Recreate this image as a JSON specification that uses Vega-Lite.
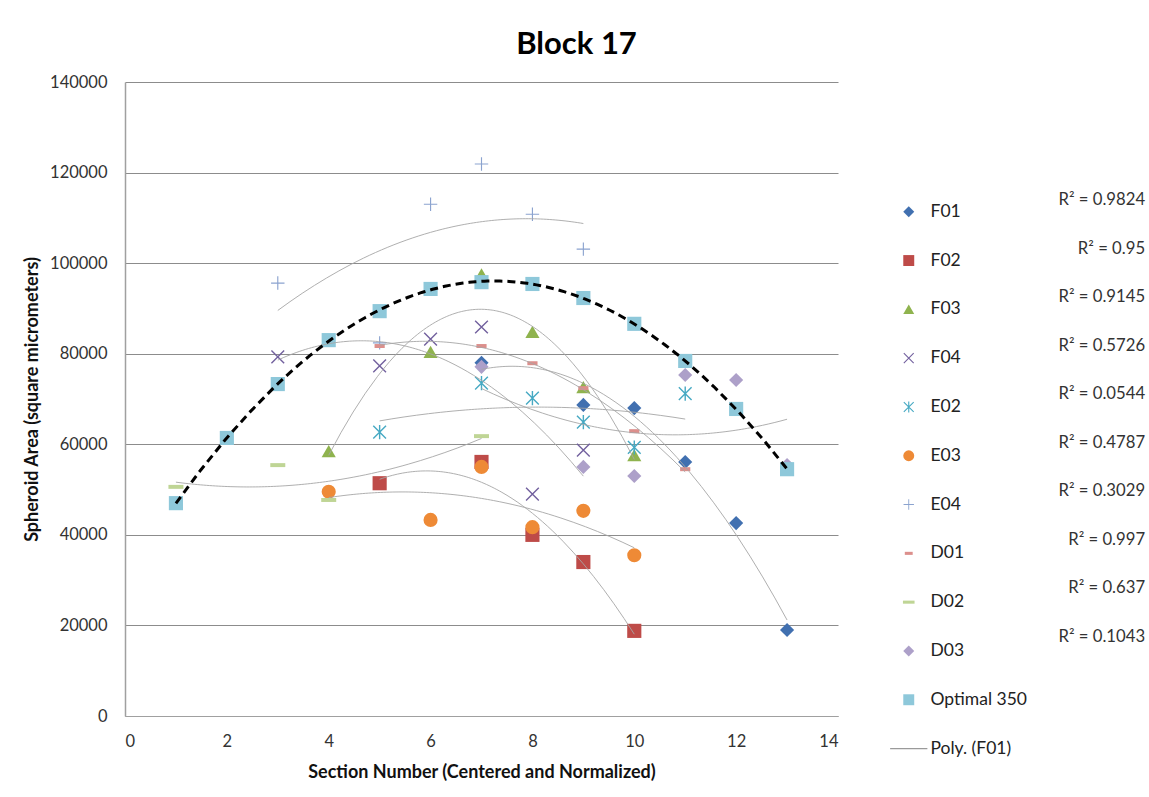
{
  "$schema": "https://vega.github.io/schema/vega-lite/v6.json",
  "width": 713,
  "height": 634,
  "autosize": {"type": "none"},
  "padding": {"left": 125, "top": 82, "right": 311, "bottom": 81},
  "background": "white",
  "title": {
    "text": "Block 17",
    "font": "Lato",
    "fontSize": 31,
    "fontWeight": "bold",
    "color": "#000000",
    "anchor": "middle",
    "dx": 95,
    "offset": 13
  },
  "datasets": {
    "points": [
      {"series": "F01", "section": 7, "area": 78000},
      {"series": "F01", "section": 9, "area": 68700},
      {"series": "F01", "section": 10, "area": 68000},
      {"series": "F01", "section": 11, "area": 56100},
      {"series": "F01", "section": 12, "area": 42600},
      {"series": "F01", "section": 13, "area": 19000},
      {"series": "F02", "section": 5, "area": 51400},
      {"series": "F02", "section": 7, "area": 56100},
      {"series": "F02", "section": 8, "area": 40000},
      {"series": "F02", "section": 9, "area": 34000},
      {"series": "F02", "section": 10, "area": 18800},
      {"series": "F03", "section": 4, "area": 58500},
      {"series": "F03", "section": 6, "area": 80400},
      {"series": "F03", "section": 7, "area": 97500},
      {"series": "F03", "section": 8, "area": 84800},
      {"series": "F03", "section": 9, "area": 72600},
      {"series": "F03", "section": 10, "area": 57600},
      {"series": "F04", "section": 3, "area": 79300},
      {"series": "F04", "section": 5, "area": 77300},
      {"series": "F04", "section": 6, "area": 83200},
      {"series": "F04", "section": 7, "area": 85900},
      {"series": "F04", "section": 8, "area": 49000},
      {"series": "F04", "section": 9, "area": 58700},
      {"series": "E02", "section": 5, "area": 62700},
      {"series": "E02", "section": 7, "area": 73500},
      {"series": "E02", "section": 8, "area": 70200},
      {"series": "E02", "section": 9, "area": 64900},
      {"series": "E02", "section": 10, "area": 59300},
      {"series": "E02", "section": 11, "area": 71200},
      {"series": "E03", "section": 4, "area": 49500},
      {"series": "E03", "section": 6, "area": 43300},
      {"series": "E03", "section": 7, "area": 55000},
      {"series": "E03", "section": 8, "area": 41700},
      {"series": "E03", "section": 9, "area": 45300},
      {"series": "E03", "section": 10, "area": 35500},
      {"series": "E04", "section": 3, "area": 95600},
      {"series": "E04", "section": 5, "area": 82400},
      {"series": "E04", "section": 6, "area": 113000},
      {"series": "E04", "section": 7, "area": 121900},
      {"series": "E04", "section": 8, "area": 110800},
      {"series": "E04", "section": 9, "area": 103100},
      {"series": "D01", "section": 5, "area": 81700},
      {"series": "D01", "section": 7, "area": 81700},
      {"series": "D01", "section": 8, "area": 77900},
      {"series": "D01", "section": 9, "area": 72400},
      {"series": "D01", "section": 10, "area": 62900},
      {"series": "D01", "section": 11, "area": 54500},
      {"series": "D02", "section": 1, "area": 50600},
      {"series": "D02", "section": 3, "area": 55400},
      {"series": "D02", "section": 4, "area": 47700},
      {"series": "D02", "section": 7, "area": 61800},
      {"series": "D03", "section": 7, "area": 77100},
      {"series": "D03", "section": 9, "area": 55000},
      {"series": "D03", "section": 10, "area": 53000},
      {"series": "D03", "section": 11, "area": 75300},
      {"series": "D03", "section": 12, "area": 74200},
      {"series": "D03", "section": 13, "area": 55400},
      {"series": "Optimal 350", "section": 1, "area": 47000},
      {"series": "Optimal 350", "section": 2, "area": 61400},
      {"series": "Optimal 350", "section": 3, "area": 73300},
      {"series": "Optimal 350", "section": 4, "area": 83000},
      {"series": "Optimal 350", "section": 5, "area": 89400},
      {"series": "Optimal 350", "section": 6, "area": 94300},
      {"series": "Optimal 350", "section": 7, "area": 95800},
      {"series": "Optimal 350", "section": 8, "area": 95400},
      {"series": "Optimal 350", "section": 9, "area": 92300},
      {"series": "Optimal 350", "section": 10, "area": 86600},
      {"series": "Optimal 350", "section": 11, "area": 78400},
      {"series": "Optimal 350", "section": 12, "area": 67800},
      {"series": "Optimal 350", "section": 13, "area": 54500}
    ],
    "r2": [
      {"series": "F01", "label": "R² = 0.9824"},
      {"series": "F02", "label": "R² = 0.95"},
      {"series": "F03", "label": "R² = 0.9145"},
      {"series": "F04", "label": "R² = 0.5726"},
      {"series": "E02", "label": "R² = 0.0544"},
      {"series": "E03", "label": "R² = 0.4787"},
      {"series": "E04", "label": "R² = 0.3029"},
      {"series": "D01", "label": "R² = 0.997"},
      {"series": "D02", "label": "R² = 0.637"},
      {"series": "D03", "label": "R² = 0.1043"}
    ]
  },
  "layer": [
    {
      "layer": [
        {
          "data": {"name": "points"},
          "mark": {"type": "point", "filled": true, "opacity": 1, "size": 200, "strokeWidth": 0},
          "encoding": {
            "x": {
              "field": "section",
              "type": "quantitative",
              "scale": {"domain": [0, 14], "nice": false},
              "axis": {
                "values": [0, 2, 4, 6, 8, 10, 12, 14],
                "grid": false,
                "ticks": false,
                "labelPadding": 17,
                "domainColor": "#a0a0a0",
                "domainWidth": 1.2,
                "title": "Section Number (Centered and Normalized)",
                "titleY": 56,
                "titleBaseline": "middle"
              }
            },
            "y": {
              "field": "area",
              "type": "quantitative",
              "scale": {"domain": [0, 140000], "nice": false},
              "axis": {
                "values": [0, 20000, 40000, 60000, 80000, 100000, 120000, 140000],
                "format": "d",
                "grid": true,
                "gridColor": "#8c8c8c",
                "gridWidth": 1,
                "ticks": false,
                "labelPadding": 18,
                "domainColor": "#a0a0a0",
                "domainWidth": 1.5,
                "title": "Spheroid Area (square micrometers)",
                "titleX": -93,
                "titleY": 317,
                "titleAlign": "center",
                "titleBaseline": "middle"
              }
            },
            "color": {
              "field": "series",
              "type": "nominal",
              "scale": {
                "domain": ["F01", "F02", "F03", "F04", "E02", "E03", "E04", "D01", "D02", "D03", "Optimal 350", "Poly. (F01)"],
                "range": ["#4170b0", "#be4b48", "#8fb34e", "#72609e", "#46a9c3", "#ee8a36", "#8ba3cf", "#dc8f8c", "#bfd595", "#ada0c9", "#8ec8da", "#9a9a9a"]
              },
              "legend": {
                "title": null,
                "orient": "none",
                "legendX": 775,
                "legendY": 121,
                "padding": 0,
                "symbolSize": 120,
                "symbolStrokeWidth": 0,
                "labelFont": "Lato",
                "labelFontSize": 17.5,
                "labelColor": "#222222",
                "labelOffset": 13,
                "rowPadding": 29.8
              }
            },
            "shape": {
              "field": "series",
              "type": "nominal",
              "scale": {
                "domain": ["F01", "F02", "F03", "F04", "E02", "E03", "E04", "D01", "D02", "D03", "Optimal 350", "Poly. (F01)"],
                "range": [
                  "diamond",
                  "square",
                  "triangle-up",
                  "M-0.83,-0.97L0.97,0.83L0.83,0.97L-0.97,-0.83ZM-0.97,0.83L0.83,-0.97L0.97,-0.83L-0.83,0.97Z",
                  "M-0.83,-0.97L0.97,0.83L0.83,0.97L-0.97,-0.83ZM-0.97,0.83L0.83,-0.97L0.97,-0.83L-0.83,0.97ZM-0.1,-1H0.1V1H-0.1Z",
                  "circle",
                  "M-0.95,-0.08H0.95V0.08H-0.95ZM-0.08,-0.95H0.08V0.95H-0.08Z",
                  "M-0.72,-0.28H0.72V0.28H-0.72Z",
                  "M-1.06,-0.28H1.06V0.28H-1.06Z",
                  "diamond",
                  "square",
                  "M-3.4,-0.11H3.4V0.11H-3.4Z"
                ]
              },
              "legend": {
                "title": null,
                "orient": "none",
                "legendX": 775,
                "legendY": 121,
                "padding": 0,
                "symbolSize": 120,
                "symbolStrokeWidth": 0,
                "labelFont": "Lato",
                "labelFontSize": 17.5,
                "labelColor": "#222222",
                "labelOffset": 13,
                "rowPadding": 29.8
              }
            }
          }
        },
        {
          "data": {"name": "points"},
          "transform": [
            {"filter": "datum.series !== 'Optimal 350'"},
            {"regression": "area", "on": "section", "groupby": ["series"], "method": "poly", "order": 2}
          ],
          "mark": {"type": "line", "color": "#a6a6a6", "strokeWidth": 0.9},
          "encoding": {
            "x": {"field": "section", "type": "quantitative", "scale": {"domain": [0, 14], "nice": false}},
            "y": {"field": "area", "type": "quantitative", "scale": {"domain": [0, 140000], "nice": false}},
            "detail": {"field": "series", "type": "nominal"}
          }
        },
        {
          "data": {"name": "points"},
          "transform": [
            {"filter": "datum.series === 'Optimal 350'"},
            {"regression": "area", "on": "section", "method": "poly", "order": 2}
          ],
          "mark": {"type": "line", "color": "#000000", "strokeWidth": 3, "strokeDash": [8, 5]},
          "encoding": {
            "x": {"field": "section", "type": "quantitative", "scale": {"domain": [0, 14], "nice": false}},
            "y": {"field": "area", "type": "quantitative", "scale": {"domain": [0, 140000], "nice": false}}
          }
        }
      ]
    },
    {
      "data": {"name": "r2"},
      "mark": {"type": "text", "align": "right", "baseline": "middle", "font": "Lato", "fontSize": 16.7, "color": "#333333"},
      "encoding": {
        "x": {"datum": 20.03, "type": "quantitative", "scale": {"domain": [0, 14], "nice": false}},
        "y": {
          "field": "series",
          "type": "nominal",
          "scale": {"type": "point", "domain": ["F01", "F02", "F03", "F04", "E02", "E03", "E04", "D01", "D02", "D03"], "range": [118, 555], "padding": 0},
          "axis": null
        },
        "text": {"field": "label"}
      }
    }
  ],
  "resolve": {"scale": {"y": "independent"}},
  "config": {
    "font": "Lato",
    "view": {"stroke": null},
    "axis": {
      "labelFont": "Lato",
      "labelFontSize": 16.5,
      "labelColor": "#333333",
      "titleFont": "Lato",
      "titleFontSize": 18,
      "titleFontWeight": "bold",
      "titleColor": "#111111"
    }
  }
}
